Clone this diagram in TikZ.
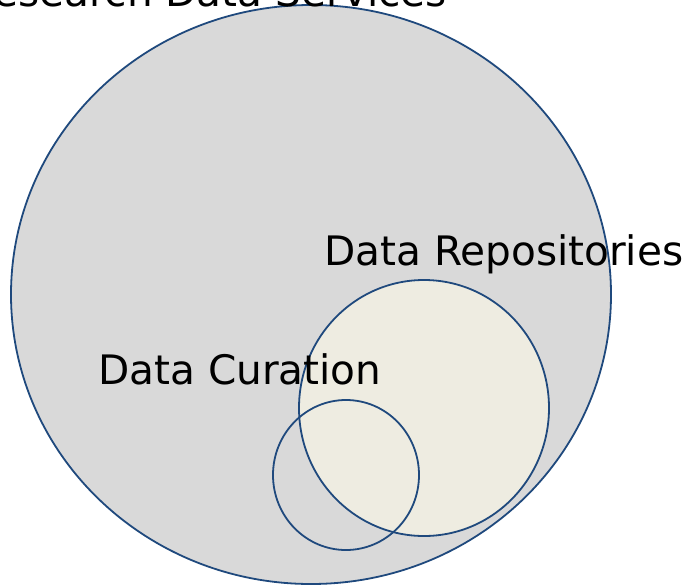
\documentclass[tikz,border=0pt]{standalone}
\usepackage{fontspec}
\setmainfont{DejaVu Sans}
\definecolor{outerfill}{HTML}{D9D9D9}
\definecolor{repofill}{HTML}{EEECE1}
\definecolor{edgeblue}{HTML}{1F497D}
\begin{document}
\begin{tikzpicture}[x=1pt,y=-1pt,
  venn/.style={draw=edgeblue,line width=1.8pt},
  lbl/.style={inner sep=0pt,font=\fontsize{40.6}{46}\selectfont,text=black}]
\useasboundingbox (0,0) rectangle (691,587);
\clip (0,0) rectangle (691,587);
\path[venn,fill=outerfill] (311,294.5) ellipse [x radius=300pt,y radius=289.5pt];
\path[venn,fill=repofill] (424,408) ellipse [x radius=125pt,y radius=128pt];
\path[venn] (346,475) ellipse [x radius=73pt,y radius=75pt];
\node[lbl,anchor=base east] (services) at (447,6) {Research Data Services};
\node[lbl,anchor=base west] (repos) at (324,265.5) {Data Repositories};
\node[lbl,anchor=base west] (curation) at (98,384.5) {Data Curation};
\end{tikzpicture}
\end{document}
